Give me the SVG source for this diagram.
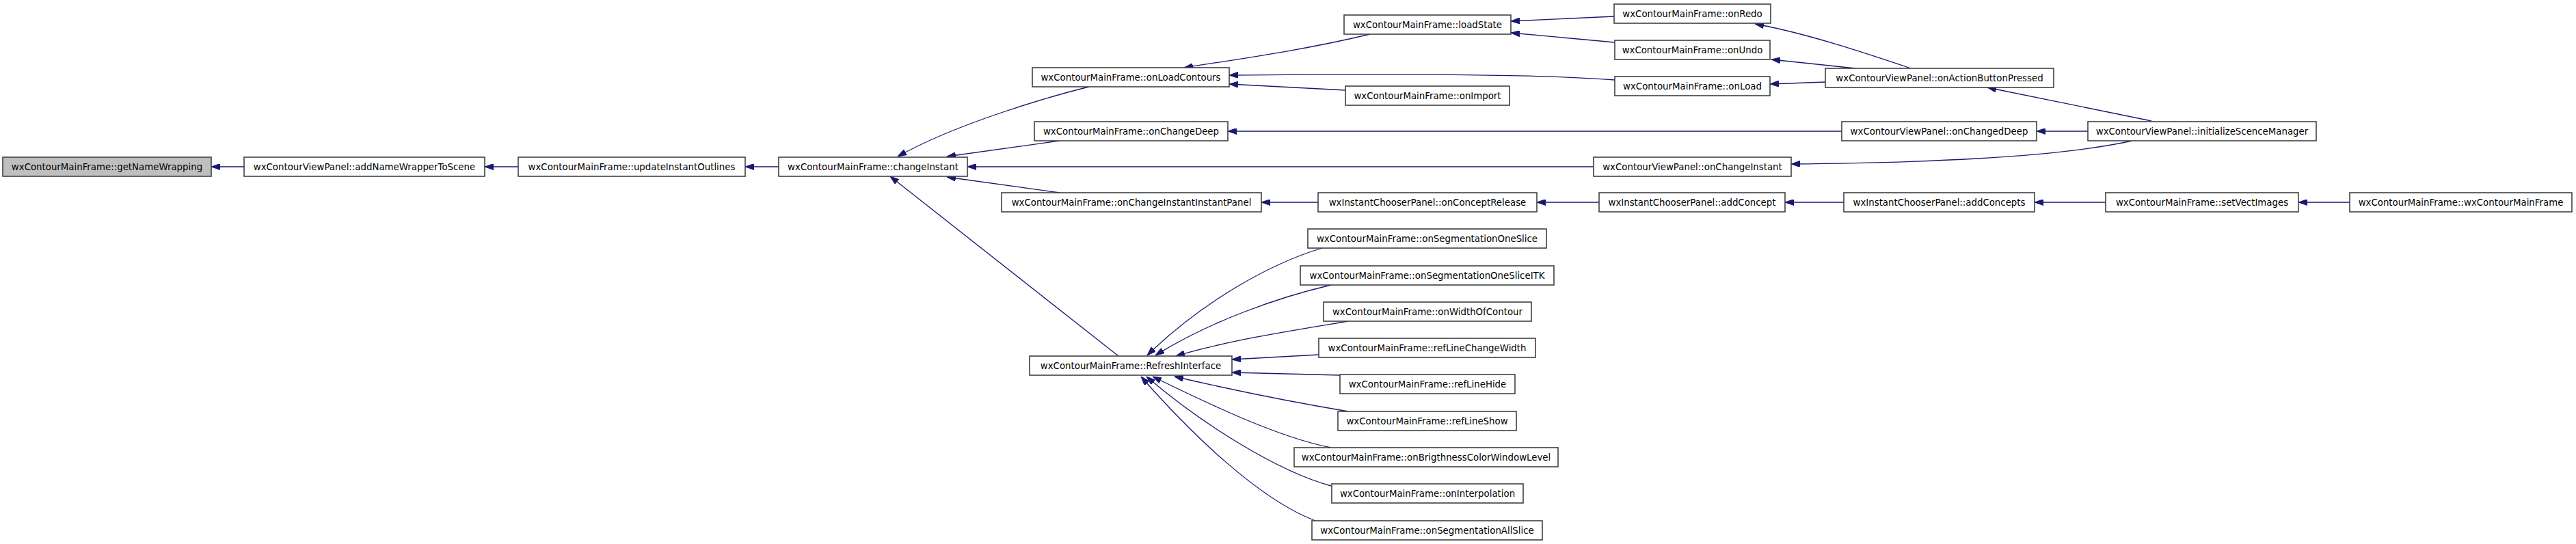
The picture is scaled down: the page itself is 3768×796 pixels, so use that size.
<svg xmlns="http://www.w3.org/2000/svg" width="3768" height="796" viewBox="0 0 3768 796">
<style>
.n rect{fill:#ffffff;stroke:#404040;stroke-width:1.6}
.n.h rect{fill:#bfbfbf}
.n text{font-family:"DejaVu Sans",sans-serif;font-size:13.33px;fill:#000000;text-anchor:middle}
#edges path{fill:none;stroke:#191970;stroke-width:1.3;marker-end:url(#ah)}
</style>
<defs>
<marker id="ah" markerUnits="userSpaceOnUse" viewBox="0 0 13 9" refX="13" refY="4.5" markerWidth="13" markerHeight="9" orient="auto">
<path d="M0,0 L13,4.5 L0,9 z" fill="#191970" stroke="#191970" stroke-width="1"/>
</marker>
</defs>
<rect x="0" y="0" width="3768" height="796" fill="#ffffff"/>
<g id="edges">
<path d="M357,244 L309,244"/>
<path d="M758,244 L709,244"/>
<path d="M1139,244 L1090,244"/>
<path d="M1593,127 C1540,140 1400,180 1313,229"/>
<path d="M1550,206 L1385,229"/>
<path d="M2331,244 L1415,244"/>
<path d="M1550,282 L1385,259"/>
<path d="M1636,521 L1302,258"/>
<path d="M2004,50 C1900,75 1800,88 1732,99"/>
<path d="M2362,117 C2250,108 2000,108 1798,110"/>
<path d="M1968,132 L1798,123"/>
<path d="M2361,24 L2210,31"/>
<path d="M2362,62 L2210,48"/>
<path d="M2795,100 C2730,78 2640,48 2567,35"/>
<path d="M2714,100 L2591,87"/>
<path d="M2670,120 L2589,123"/>
<path d="M3147,177 L2907,128"/>
<path d="M2694,192 L1796,192"/>
<path d="M3054,192 L2979,192"/>
<path d="M3119,206 C3000,232 2800,238 2620,240"/>
<path d="M1928,296 L1845,296"/>
<path d="M2339,296 L2248,296"/>
<path d="M2697,296 L2611,296"/>
<path d="M3080,296 L2976,296"/>
<path d="M3437,296 L3362,296"/>
<path d="M1934,363 C1860,385 1760,440 1678,520"/>
<path d="M1947,417 C1870,435 1770,470 1690,520"/>
<path d="M1972,470 C1900,482 1800,497 1720,521"/>
<path d="M1929,519 L1802,526"/>
<path d="M1960,549 L1802,545"/>
<path d="M1972,602 C1900,590 1800,570 1718,551"/>
<path d="M1947,655 C1870,640 1770,592 1686,551"/>
<path d="M1947,711 C1870,690 1760,622 1677,551"/>
<path d="M1924,762 C1840,730 1740,632 1669,551"/>
</g>
<g id="n_getNameWrapping" class="n h"><rect x="4" y="230" width="305" height="28"/><text x="156.5" y="248.7">wxContourMainFrame::getNameWrapping</text></g>
<g id="n_addNameWrapperToScene" class="n"><rect x="357" y="230" width="352" height="28"/><text x="533" y="248.7">wxContourViewPanel::addNameWrapperToScene</text></g>
<g id="n_updateInstantOutlines" class="n"><rect x="758" y="230" width="332" height="28"/><text x="924" y="248.7">wxContourMainFrame::updateInstantOutlines</text></g>
<g id="n_changeInstant" class="n"><rect x="1139" y="230" width="276" height="28"/><text x="1277" y="248.7">wxContourMainFrame::changeInstant</text></g>
<g id="n_onLoadContours" class="n"><rect x="1510" y="99" width="288" height="28"/><text x="1654" y="117.7">wxContourMainFrame::onLoadContours</text></g>
<g id="n_onChangeDeep" class="n"><rect x="1513" y="178" width="283" height="28"/><text x="1654.5" y="196.7">wxContourMainFrame::onChangeDeep</text></g>
<g id="n_onChangeInstantInstantPanel" class="n"><rect x="1465" y="282" width="380" height="28"/><text x="1655" y="300.7">wxContourMainFrame::onChangeInstantInstantPanel</text></g>
<g id="n_RefreshInterface" class="n"><rect x="1506" y="521" width="296" height="28"/><text x="1654" y="539.7">wxContourMainFrame::RefreshInterface</text></g>
<g id="n_loadState" class="n"><rect x="1966" y="22" width="244" height="28"/><text x="2088" y="40.7">wxContourMainFrame::loadState</text></g>
<g id="n_onImport" class="n"><rect x="1968" y="126" width="240" height="28"/><text x="2088" y="144.7">wxContourMainFrame::onImport</text></g>
<g id="n_onConceptRelease" class="n"><rect x="1928" y="282" width="320" height="28"/><text x="2088" y="300.7">wxInstantChooserPanel::onConceptRelease</text></g>
<g id="n_onSegmentationOneSlice" class="n"><rect x="1913" y="335" width="349" height="28"/><text x="2087.5" y="353.7">wxContourMainFrame::onSegmentationOneSlice</text></g>
<g id="n_onSegmentationOneSliceITK" class="n"><rect x="1902" y="389" width="371" height="28"/><text x="2087.5" y="407.7">wxContourMainFrame::onSegmentationOneSliceITK</text></g>
<g id="n_onWidthOfContour" class="n"><rect x="1936" y="442" width="304" height="28"/><text x="2088" y="460.7">wxContourMainFrame::onWidthOfContour</text></g>
<g id="n_refLineChangeWidth" class="n"><rect x="1929" y="495" width="317" height="28"/><text x="2087.5" y="513.7">wxContourMainFrame::refLineChangeWidth</text></g>
<g id="n_refLineHide" class="n"><rect x="1960" y="548" width="256" height="28"/><text x="2088" y="566.7">wxContourMainFrame::refLineHide</text></g>
<g id="n_refLineShow" class="n"><rect x="1957" y="602" width="261" height="28"/><text x="2087.5" y="620.7">wxContourMainFrame::refLineShow</text></g>
<g id="n_onBrigthnessColorWindowLevel" class="n"><rect x="1893" y="655" width="386" height="28"/><text x="2086" y="673.7">wxContourMainFrame::onBrigthnessColorWindowLevel</text></g>
<g id="n_onInterpolation" class="n"><rect x="1948" y="708" width="280" height="28"/><text x="2088" y="726.7">wxContourMainFrame::onInterpolation</text></g>
<g id="n_onSegmentationAllSlice" class="n"><rect x="1919" y="762" width="337" height="28"/><text x="2087.5" y="780.7">wxContourMainFrame::onSegmentationAllSlice</text></g>
<g id="n_onRedo" class="n"><rect x="2361" y="6" width="229" height="28"/><text x="2475.5" y="24.7">wxContourMainFrame::onRedo</text></g>
<g id="n_onUndo" class="n"><rect x="2362" y="59" width="227" height="28"/><text x="2475.5" y="77.7">wxContourMainFrame::onUndo</text></g>
<g id="n_onLoad" class="n"><rect x="2362" y="112" width="227" height="28"/><text x="2475.5" y="130.7">wxContourMainFrame::onLoad</text></g>
<g id="n_vp_onChangeInstant" class="n"><rect x="2331" y="230" width="289" height="28"/><text x="2475.5" y="248.7">wxContourViewPanel::onChangeInstant</text></g>
<g id="n_addConcept" class="n"><rect x="2339" y="282" width="272" height="28"/><text x="2475" y="300.7">wxInstantChooserPanel::addConcept</text></g>
<g id="n_onActionButtonPressed" class="n"><rect x="2670" y="100" width="334" height="28"/><text x="2837" y="118.7">wxContourViewPanel::onActionButtonPressed</text></g>
<g id="n_vp_onChangedDeep" class="n"><rect x="2694" y="178" width="285" height="28"/><text x="2836.5" y="196.7">wxContourViewPanel::onChangedDeep</text></g>
<g id="n_addConcepts" class="n"><rect x="2697" y="282" width="279" height="28"/><text x="2836.5" y="300.7">wxInstantChooserPanel::addConcepts</text></g>
<g id="n_initializeScenceManager" class="n"><rect x="3054" y="178" width="334" height="28"/><text x="3221" y="196.7">wxContourViewPanel::initializeScenceManager</text></g>
<g id="n_setVectImages" class="n"><rect x="3080" y="282" width="282" height="28"/><text x="3221" y="300.7">wxContourMainFrame::setVectImages</text></g>
<g id="n_wxContourMainFrame" class="n"><rect x="3437" y="282" width="325" height="28"/><text x="3599.5" y="300.7">wxContourMainFrame::wxContourMainFrame</text></g>
</svg>
